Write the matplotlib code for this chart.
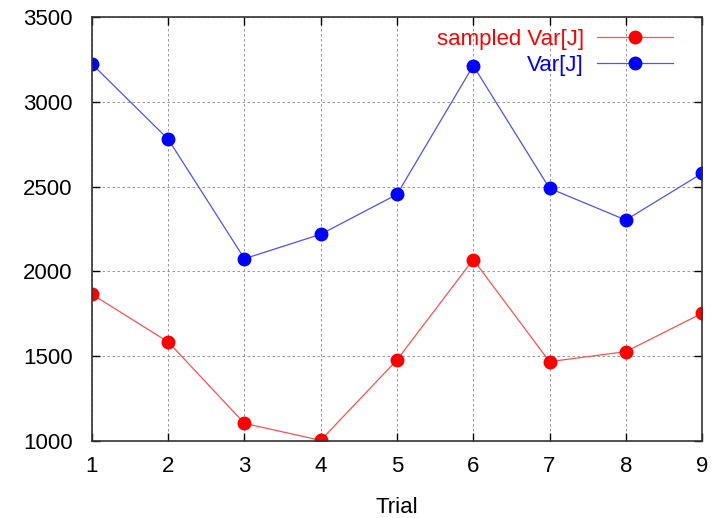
import matplotlib
matplotlib.use("Agg")
import matplotlib.pyplot as plt

plt.rcParams['font.family'] = ['Liberation Sans', 'DejaVu Sans']

trials = [1, 2, 3, 4, 5, 6, 7, 8, 9]
sampled_var = [1865, 1584, 1104, 1004, 1478, 2070, 1468, 1527, 1753]
var_j = [3223, 2779, 2075, 2219, 2454, 3213, 2490, 2303, 2578]
yticks = [1000, 1500, 2000, 2500, 3000, 3500]

fig = plt.figure(figsize=(7.13, 5.18), dpi=100)
ax = fig.add_axes([0.129, 0.1486, 0.8556, 0.8186])

ax.plot(trials, sampled_var, color='#ff5050', lw=0.9, marker='o', ms=9,
        mec='#ff0000', mfc='#ff0000', label='sampled Var[J]')
ax.plot(trials, var_j, color='#5050ff', lw=0.9, marker='o', ms=9,
        mec='#0000ff', mfc='#0000ff', label='Var[J]')

ax.set_xlim(1, 9)
ax.set_ylim(1000, 3500)
ax.set_xticks(trials)
ax.set_yticks(yticks)
ax.grid(True, color='#888888', linestyle=(0, (3, 3)), linewidth=0.6)
ax.tick_params(direction='in', length=6, width=1, top=True, right=True,
               labelsize=16)
ax.tick_params(axis='y', pad=14)
ax.tick_params(axis='x', pad=11)
for s in ax.spines.values():
    s.set_linewidth(1.2)
    s.set_color('#333333')
for lbl in ax.get_xticklabels() + ax.get_yticklabels():
    lbl.set_clip_on(False)

ax.set_xlabel('Trial', fontsize=16, labelpad=14)

leg = ax.legend(loc='upper right', bbox_to_anchor=(0.972, 1.0), frameon=False,
                markerfirst=False, fontsize=16, handlelength=3.4,
                handletextpad=0.6, labelspacing=0.2, borderaxespad=0.15)
for txt, line in zip(leg.get_texts(), leg.get_lines()):
    txt.set_color(line.get_markerfacecolor())
    txt.set_ha('right')
leg._legend_box.align = "right"

fig.savefig('out.png', dpi=100)
